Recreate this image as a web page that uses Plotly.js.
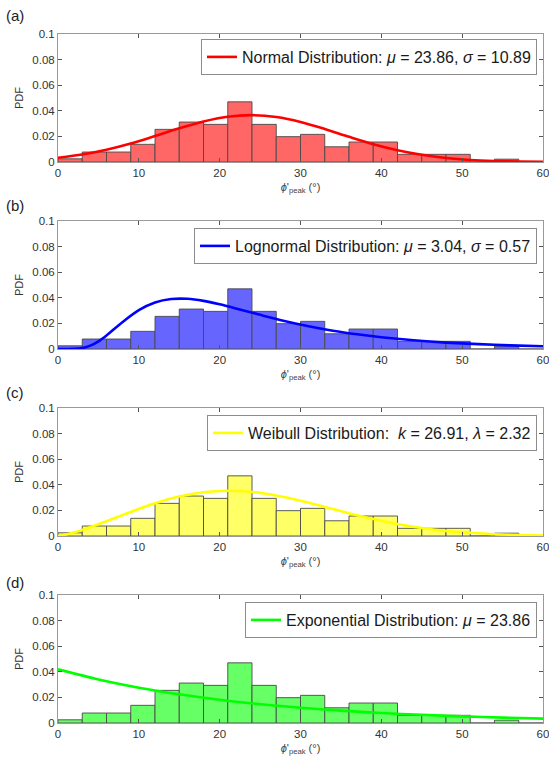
<!DOCTYPE html>
<html>
<head>
<meta charset="utf-8">
<script src="https://cdn.plot.ly/plotly-3.0.1.min.js"></script>
<style>html,body{margin:0;padding:0;background:#fff;}#chart{width:549px;height:762px;}</style>
</head>
<body>
<div id="chart"></div>
<script>
// Histogram bins (degrees) and PDF bar heights (same data in all panels)
const binEdges = [0,3,6,9,12,15,18,21,24,27,30,33,36,39,42,45,48,51,54,57,60];
const binHeights = [0.0025,0.0078,0.0078,0.0138,0.0255,0.0312,0.0294,0.0470,0.0294,0.0198,0.0216,0.0119,0.0156,0.0156,0.0060,0.0060,0.0060,0,0.0022,0];

// Fitted curves
const normalX = [0,3,6,9,12,15,18,21,24,27,30,33,36,39,42,45,48,51,54,57,60];
const normalY = [0.0033,0.0059,0.0096,0.0144,0.0203,0.0263,0.0317,0.0354,0.0366,0.0351,0.0313,0.0258,0.0197,0.0139,0.0092,0.0056,0.0031,0.0016,0.0008,0.0004,0.0002];

const lognormX = [0,1,2,3,4,5,6,8,10,12,14,16,18,20,22,25,28,31,34,37,40,44,48,52,56,60];
const lognormY = [0,0,0.0001,0.0007,0.0026,0.0060,0.0106,0.0211,0.0303,0.0363,0.0390,0.0392,0.0376,0.0349,0.0317,0.0267,0.0219,0.0178,0.0143,0.0115,0.0092,0.0068,0.0050,0.0038,0.0028,0.0021];

const weibullX = [0,1.5,3,6,9,12,15,18,21,24,27,30,33,36,39,42,45,48,51,54,57,60];
const weibullY = [0,0.0019,0.0047,0.0115,0.0188,0.0255,0.0308,0.0342,0.0354,0.0344,0.0316,0.0275,0.0227,0.0178,0.0132,0.0093,0.0063,0.0040,0.0025,0.0014,0.0008,0.0004];

const expX = [0,5,10,15,20,25,30,35,40,45,50,55,60];
const expY = [0.0419,0.0340,0.0276,0.0224,0.0181,0.0147,0.0119,0.0097,0.0078,0.0064,0.0052,0.0042,0.0034];

const xTickVals = [0,10,20,30,40,50,60];
const yTickVals = [0,0.02,0.04,0.06,0.08,0.1];
const yTickText = ['0','0.02','0.04','0.06','0.08','0.1'];

const panelLabels = ['(a)','(b)','(c)','(d)'];
const legendNames = [
  'Normal Distribution: <i>μ</i> = 23.86, <i>σ</i> = 10.89',
  'Lognormal Distribution: <i>μ</i> = 3.04, <i>σ</i> = 0.57',
  'Weibull Distribution:\u00a0 <i>k</i> = 26.91, <i>λ</i> = 2.32',
  'Exponential Distribution: <i>μ</i> = 23.86'
];
const lineColors = ['#ff0000','#0000ff','#ffff00','#00ff00'];
const barColors = ['#ff6666','#6666ff','#ffff66','#66ff66'];
const curves = [[normalX,normalY],[lognormX,lognormY],[weibullX,weibullY],[expX,expY]];

(function(){
const binCenters = binEdges.slice(0,-1).map((e,i)=>(e+binEdges[i+1])/2);
const binWidths = binEdges.slice(0,-1).map((e,i)=>binEdges[i+1]-e);

// layout geometry (pixels -> paper)
const H = 762, plotTop = 34, plotBottom = 723, plotH = plotBottom-plotTop;
const panelTops = [34,221,408,595];
const panelH = 128;
const legendTops = [39,228,415,602];
const labelY = [16,205,392,582];
const toPaper = y => (plotBottom - y)/plotH;

const data = [];
const layout = {
  width:549, height:762,
  margin:{l:58,r:6,t:plotTop,b:H-plotBottom,pad:0},
  paper_bgcolor:'#fff', plot_bgcolor:'#fff',
  font:{family:'"Liberation Sans", Arial, sans-serif', size:11, color:'#333'},
  bargap:0, showlegend:true,
  annotations:[]
};

for (let i=0;i<4;i++){
  const n = i===0?'':String(i+1);
  const xa = 'x'+n, ya = 'y'+n;
  const leg = i===0?'legend':'legend'+(i+1);
  data.push({
    type:'bar', x:binCenters, y:binHeights, width:binWidths,
    xaxis:xa, yaxis:ya, showlegend:false,
    marker:{color:barColors[i], line:{color:'#4a4a4a', width:0.9}},
    hoverinfo:'skip'
  });
  data.push({
    type:'scatter', mode:'lines', x:curves[i][0], y:curves[i][1],
    xaxis:xa, yaxis:ya, name:legendNames[i], legend:leg,
    line:{color:lineColors[i], width:2.6, shape:'spline', smoothing:0.8}
  });
  const d0 = toPaper(panelTops[i]+panelH), d1 = toPaper(panelTops[i]);
  layout['xaxis'+n] = {
    domain:[0,1], anchor:ya, range:[0,60], tickvals:xTickVals,
    ticks:'inside', ticklen:4, tickcolor:'#555', mirror:'ticks',
    showline:true, linecolor:'#9a9a9a', linewidth:1, showgrid:false, zeroline:false,
    tickfont:{size:11.5, color:'#333'}, ticklabeloverflow:'allow',
    title:{text:'<i>ϕ</i>\'<sub>peak</sub> (°)', font:{size:11, color:'#444'}, standoff:5}
  };
  layout['yaxis'+n] = {
    domain:[Math.max(0,d0), Math.min(1,d1)], anchor:xa, range:[0,0.1],
    tickvals:yTickVals, ticktext:yTickText,
    ticks:'inside', ticklen:4, tickcolor:'#555', mirror:'ticks',
    showline:true, linecolor:'#9a9a9a', linewidth:1, showgrid:false, zeroline:false,
    tickfont:{size:11.5, color:'#333'}, ticklabeloverflow:'allow',
    title:{text:'PDF', font:{size:11, color:'#333'}, standoff:6}
  };
  layout[leg] = {
    x:(537-58)/485, xanchor:'right', y:toPaper(legendTops[i]), yanchor:'top',
    bgcolor:'#fff', bordercolor:'#8c8c8c', borderwidth:1,
    font:{size:16, color:'#1a1a1a'}, itemwidth:30
  };
  layout.annotations.push({
    xref:'paper', yref:'paper', x:(4-58)/485, y:toPaper(labelY[i]),
    xanchor:'left', yanchor:'middle', text:panelLabels[i], showarrow:false,
    font:{size:15, color:'#222'}
  });
}

Plotly.newPlot('chart', data, layout, {displayModeBar:false, staticPlot:true});
})();
</script>
</body>
</html>
